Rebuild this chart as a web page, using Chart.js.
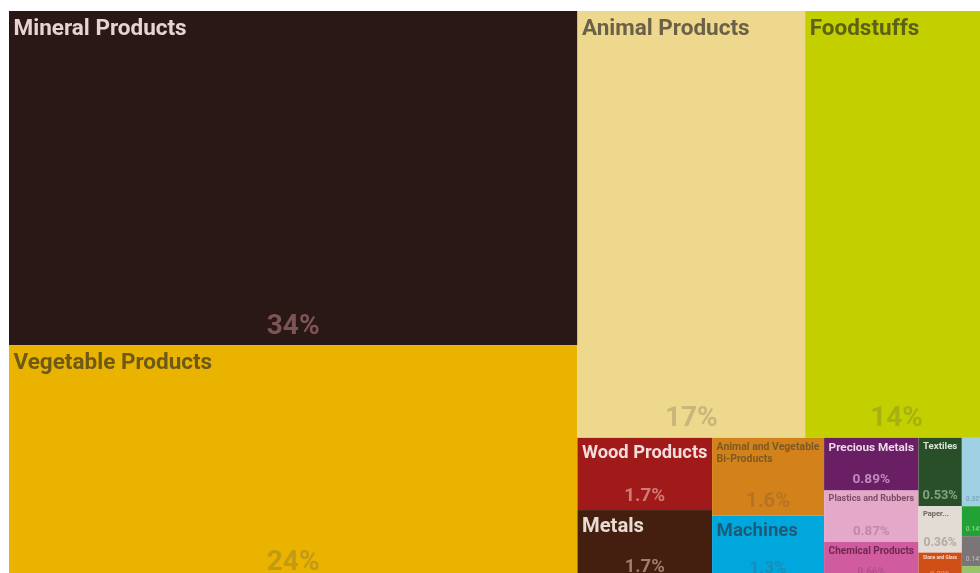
<!DOCTYPE html>
<html>
<head>
<meta charset="utf-8">
<script src="https://cdn.jsdelivr.net/npm/chart.js@4.4.0/dist/chart.umd.min.js"></script>
<style>
html,body{margin:0;padding:0;background:#fff;overflow:hidden;width:980px;height:573px}
#wrap{position:absolute;left:0;top:0;width:1000px;height:600px}
</style>
</head>
<body>
<div id="wrap"><canvas id="c" width="1000" height="600"></canvas></div>
<script>
// ---- data ----
const categories = [
  'Mineral Products', 'Vegetable Products', 'Animal Products', 'Foodstuffs',
  'Wood Products', 'Metals', 'Animal and Vegetable Bi-Products', 'Machines',
  'Precious Metals', 'Plastics and Rubbers', 'Chemical Products',
  'Textiles', 'Paper Goods', 'Stone and Glass',
  'Transportation', 'Footwear and Headwear', 'Instruments', 'Miscellaneous'
];
const shares = [
  34, 24, 17.4, 13.97,
  1.74, 1.71, 1.56, 1.31,
  0.89, 0.87, 0.66,
  0.53, 0.36, 0.22,
  0.32, 0.14, 0.14, 0.07
];
// nesting of the treemap (indices into categories); levels alternate column / row splits
const groups = [[0, 1], [[2, 3], [[4, 5], [6, 7], [8, 9, 10], [11, 12, 13], [14, 15, 16, 17]]]];

// ---- styles ----
const fills = ['#2a1816','#e9b300','#edd88e','#c4cf00','#a11a1a','#441f10','#d3811a','#00a7dd',
  '#6a1e63','#e4a8c8','#d05c9f','#294f28','#e2dcd4','#cf4f16','#9fd0e3','#22a135','#7a7677','#98c46c'];
const titleColors = ['#e6d3d2','#6d5a1a','#6b6149','#5c6115','#f3dcdc','#eadbd2','#7d5a24','#1d5b79',
  '#ecd8ea','#7d4b65','#6e2952','#d7e4d6','#6a645d','#f5dacd','#3f6a7a','#d8f0db','#e3e1e1','#3f5a2a'];
const pctColors = ['#7c5454','#c49a14','#c9b77a','#a6b113','#d27a7a','#a17d6c','#b57425','#1b8cb9',
  '#c08abc','#c587a8','#b44f8a','#80a47f','#b3aca4','#e88f6a','#7ea9ba','#7fcf8a','#b0acad','#c0dca4'];
const FONT = 'Roboto, "Liberation Sans", sans-serif';

function total(node) {
  return typeof node === 'number' ? shares[node] : node.reduce((s, n) => s + total(n), 0);
}
function layout(node, x0, y0, x1, y1, depth, out) {
  if (typeof node === 'number') { out.push({i: node, x0, y0, x1, y1}); return; }
  const sum = total(node);
  let pos = depth % 2 === 0 ? x0 : y0;
  node.forEach(child => {
    const f = total(child) / sum;
    if (depth % 2 === 0) {
      const nx = pos + (x1 - x0) * f;
      layout(child, pos, y0, nx, y1, depth + 1, out); pos = nx;
    } else {
      const ny = pos + (y1 - y0) * f;
      layout(child, x0, pos, x1, ny, depth + 1, out); pos = ny;
    }
  });
}

function measure(ctx, text) {
  ctx.font = 'bold 100px ' + FONT;
  return ctx.measureText(text).width / 100;
}
function fitTitle(ctx, text, w, h) {
  const maxFs = 22.5, avail = w - 9;
  let best = {lines: [text], fs: Math.min(maxFs, avail / measure(ctx, text), h * 0.285)};
  const words = text.split(' ');
  for (let k = 1; k < words.length; k++) {
    const l1 = words.slice(0, k).join(' '), l2 = words.slice(k).join(' ');
    const mw = Math.max(measure(ctx, l1), measure(ctx, l2));
    const fs2 = Math.min(maxFs, avail / mw, h * 0.136);
    if (fs2 > best.fs * 1.2) best = {lines: [l1, l2], fs: fs2};
  }
  if (best.fs < 6.5 && h > 35) {
    const fs = 7.5;
    for (let n = words.length - 1; n >= 1; n--) {
      const t = words.slice(0, n).join(' ') + '...';
      if (measure(ctx, t) * fs <= avail) return {lines: [t], fs};
    }
    return null;
  }
  return best.fs >= 3.5 ? best : null;
}

const treemapPlugin = {
  id: 'treemapCells',
  afterDatasetsDraw(chart) {
    const {ctx, scales: {x, y}} = chart;
    const cells = [];
    layout(groups, 0, 0, 100, 100, 0, cells);
    cells.forEach(c => {
      const L = x.getPixelForValue(c.x0), R = x.getPixelForValue(c.x1);
      const T = y.getPixelForValue(c.y0), B = y.getPixelForValue(c.y1);
      const w = R - L, h = B - T;
      ctx.save();
      ctx.fillStyle = fills[c.i];
      ctx.fillRect(L, T, w, h);
      ctx.beginPath(); ctx.rect(L, T, w, h); ctx.clip();
      // title
      const t = fitTitle(ctx, categories[c.i], w, h);
      if (t) {
        ctx.font = 'bold ' + t.fs.toFixed(2) + 'px ' + FONT;
        ctx.fillStyle = titleColors[c.i];
        ctx.textAlign = 'left'; ctx.textBaseline = 'alphabetic';
        t.lines.forEach((ln, k) => ctx.fillText(ln, L + 4.5, T + 2 + 0.98 * t.fs + k * 1.1 * t.fs));
      }
      // percentage
      const label = shares[c.i].toPrecision(2) + '%';
      const fsP = Math.min(28, (w - 8) / measure(ctx, label), h * 0.26);
      if (fsP >= 4) {
        ctx.font = 'bold ' + fsP.toFixed(2) + 'px ' + FONT;
        ctx.fillStyle = pctColors[c.i];
        ctx.textAlign = 'center'; ctx.textBaseline = 'alphabetic';
        ctx.fillText(label, (L + R) / 2, B - (3 + 0.3 * fsP));
      }
      ctx.restore();
    });
  }
};

new Chart(document.getElementById('c'), {
  type: 'scatter',
  data: {datasets: [{data: [], pointRadius: 0}]},
  options: {
    responsive: false,
    animation: false,
    devicePixelRatio: 1,
    layout: {padding: {left: 9, top: 11, right: 12, bottom: 19}},
    scales: {
      x: {type: 'linear', min: 0, max: 100, display: false},
      y: {type: 'linear', min: 0, max: 100, reverse: true, display: false}
    },
    plugins: {legend: {display: false}, tooltip: {enabled: false}}
  },
  plugins: [treemapPlugin]
});
</script>
</body>
</html>
